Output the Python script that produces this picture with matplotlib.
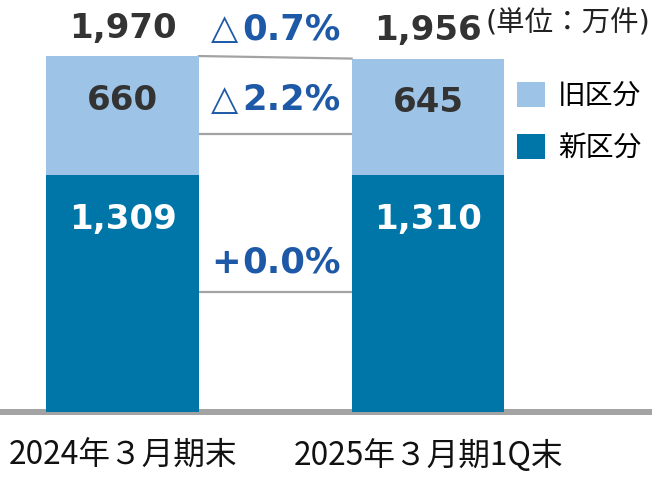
import matplotlib
matplotlib.use("Agg")
import matplotlib.pyplot as plt
from matplotlib.transforms import blended_transform_factory

# ---- data ----
categories = ["2024年３月期末", "2025年３月期1Q末"]
new_vals = [1309, 1310]          # 新区分
old_vals = [660, 645]            # 旧区分
new_labels = ["1,309", "1,310"]
old_labels = ["660", "645"]
total_labels = ["1,970", "1,956"]
pct_marks = ["△", "△", "+"]
pct_nums = ["0.7%", "2.2%", "0.0%"]
legend_names = ["旧区分", "新区分"]
unit_text = "(単位：万件)"

# ---- style ----
C_OLD = "#9DC3E6"
C_NEW = "#0076A8"
C_PCT = "#1D59A6"
C_TXT = "#333333"
C_LINE = "#A3A3A3"
CJK = ["Noto Sans CJK JP", "DejaVu Sans"]
NUM = ["DejaVu Sans"]

W, H, DPI = 652, 484, 100
fig = plt.figure(figsize=(W / DPI, H / DPI), dpi=DPI)
ax = fig.add_axes([0, 0, 1, 1])
ax.set_xlim(-0.401, 1.733)
ax.set_ylim(-398, 2279)
ax.axis("off")

x = [0, 1]
bw = 0.5
ax.axhline(0, color=C_LINE, lw=4.3, zorder=1)
b_new = ax.bar(x, new_vals, bw, color=C_NEW, zorder=3, label=legend_names[1])
b_old = ax.bar(x, old_vals, bw, bottom=new_vals, color=C_OLD, zorder=3, label=legend_names[0])

totals = [n + o for n, o in zip(new_vals, old_vals)]

def pt(px):
    return px * 72.0 / DPI

# connector / separator lines between bars
gx0, gx1 = x[0] + bw / 2, x[1] - bw / 2
sep_levels = [1538, 664]
ax.plot([gx0, gx1], [totals[0], totals[1]], color=C_LINE, lw=1.6, zorder=2)
for lv in sep_levels:
    ax.plot([gx0, gx1], [lv, lv], color=C_LINE, lw=1.6, zorder=2)

# value labels
FS = 24.5
for i in range(2):
    ax.annotate(total_labels[i], (x[i], totals[i]), xytext=(0, pt(28)), textcoords="offset points",
                ha="center", va="center", fontsize=FS, fontweight="bold", color=C_TXT, family=NUM)
    ax.annotate(old_labels[i], (x[i], totals[i]), xytext=(0, -pt(44)), textcoords="offset points",
                ha="center", va="center", fontsize=FS, fontweight="bold", color=C_TXT, family=NUM)
    ax.annotate(new_labels[i], (x[i], new_vals[i]), xytext=(0, -pt(44)), textcoords="offset points",
                ha="center", va="center", fontsize=FS, fontweight="bold", color="white", family=NUM)

# percentage labels in the gap
PFS = 25.5
gc = (gx0 + gx1) / 2
pct_anchor = [((totals[0] + totals[1]) / 2, 28), (sep_levels[0], 34), (sep_levels[1], 29)]
for (yv, off), mk, num in zip(pct_anchor, pct_marks, pct_nums):
    ax.annotate(num, (gc, yv), xytext=(-pt(33), pt(off)), textcoords="offset points",
                ha="left", va="center", fontsize=PFS, fontweight="bold", color=C_PCT, family=NUM)
    if mk == "△":
        ax.annotate(mk, (gc, yv), xytext=(-pt(37), pt(off)), textcoords="offset points",
                    ha="right", va="center", fontsize=PFS, fontweight="normal", color=C_PCT, family=NUM)
    else:
        ax.annotate(mk, (gc, yv), xytext=(-pt(34), pt(off)), textcoords="offset points",
                    ha="right", va="center", fontsize=PFS, fontweight="bold", color=C_PCT, family=NUM)

# category labels
tr = blended_transform_factory(ax.transData, fig.transFigure)
for xi, c in zip(x, categories):
    ax.text(xi, 1 - 456 / H, c, transform=tr, ha="center", va="center",
            fontsize=22.8, color="#111111", family=CJK)

# unit
fig.text(650 / W, 1 - 23 / H, unit_text, ha="right", va="center", fontsize=20.5,
         color="#222222", family=["DejaVu Sans", "Noto Sans CJK JP"])

# legend
leg = fig.legend(handles=[b_old, b_new], labels=legend_names, loc="upper left",
                 bbox_to_anchor=(517 / W, 1 - 81 / H), frameon=False,
                 prop={"family": CJK, "size": 20}, handlelength=1.02, handleheight=1.0,
                 handletextpad=0.45, labelspacing=0.78, borderpad=0, borderaxespad=0)

fig.savefig("out.png", dpi=DPI)
